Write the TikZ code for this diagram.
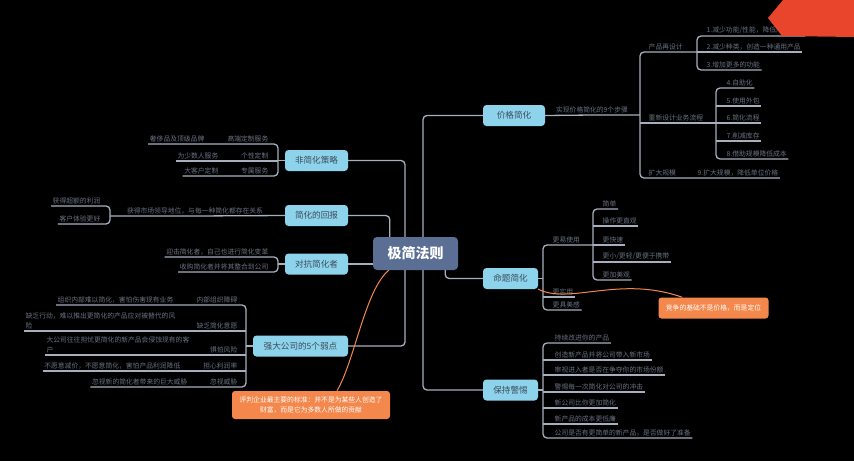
\documentclass[tikz,border=0pt]{standalone}
\usepackage{fontspec}
\usepackage{xcolor}
\usepackage{tikz}
\newfontfamily\cjk{Noto Sans CJK SC}
\definecolor{topicblue}{HTML}{8DD3EC}
\definecolor{topictext}{HTML}{3E4C5C}
\definecolor{rootblue}{HTML}{5B6F94}
\definecolor{linegray}{HTML}{A7AFBE}
\definecolor{leafgray}{HTML}{6A7282}
\definecolor{noteorange}{HTML}{F4874B}
\definecolor{tagred}{HTML}{E8452C}
\pgfdeclarelayer{bg}
\pgfsetlayers{bg,main}

\begin{document}
\begin{tikzpicture}[x=1pt, y=-1pt,
    root/.style={rectangle, rounded corners=4pt, fill=rootblue, text=white, font=\cjk\bfseries\fontsize{14}{16}\selectfont, minimum width=85pt, minimum height=33pt, inner sep=0pt},
    topic/.style={rectangle, rounded corners=3.5pt, fill=topicblue, text=topictext, font=\cjk\fontsize{8.6}{10}\selectfont, minimum height=21pt, inner sep=0pt},
    leaf/.style={font=\cjk\fontsize{6.8}{9.5}\selectfont, text=leafgray, inner xsep=1.5pt, inner ysep=2pt},
    lleaf/.style={leaf, anchor=south west},
    rleaf/.style={leaf, anchor=south east},
    branch/.style={draw=linegray, line width=1.3pt, rounded corners=4pt},
    note/.style={rectangle, rounded corners=3pt, fill=noteorange, text=white, font=\cjk\fontsize{6.8}{10}\selectfont, inner sep=0pt, align=center},
    link/.style={draw=noteorange, line width=1pt}]

    \begin{pgfonlayer}{bg}
        \fill[black] (0,0) rectangle (854,461);
    \end{pgfonlayer}
    \useasboundingbox (0,0) rectangle (854,461);

    % main topics
    \node[root] (root) at (415.5,253.5) {极简法则};
    \node[topic, minimum width=63pt] (nonsimp) at (316.5,160.5) {非简化策略};
    \node[topic, minimum width=63pt] (reward) at (316.5,215.5) {简化的回报};
    \node[topic, minimum width=63pt] (fight) at (316.5,264) {对抗简化者};
    \node[topic, minimum width=95pt] (weak) at (300.5,346) {强大公司的5个弱点};
    \node[topic, minimum width=62pt] (price) at (514,115.5) {价格简化};
    \node[topic, minimum width=55pt] (prop) at (510.5,278.5) {命题简化};
    \node[topic, minimum width=55pt] (alert) at (510.5,390) {保持警惕};

    \coordinate (ltrunk) at (405,0);
    \coordinate (rtrunk) at (423,0);

    % price
    \node[leaf, anchor=south] (pstep) at (592,115) {实现价格简化的9个步骤};
    \coordinate (pv) at (640,0);
    \node[lleaf] (pdesign) at (647,52) {产品再设计};
    \node[lleaf] (pprocess) at (647,123) {重新设计业务流程};
    \node[lleaf] (pscale) at (647,178) {扩大规模};
    \coordinate (pdv) at (697,0);
    \node[lleaf] (p1) at (705,36) {1.减少功能/性能，降低产品成本};
    \node[lleaf] (p2) at (705,52) {2.减少种类，创造一种通用产品};
    \node[lleaf] (p3) at (705,70) {3.增加更多的功能};
    \coordinate (prv) at (716,0);
    \node[lleaf] (p4) at (725,88) {4.自助化};
    \node[lleaf] (p5) at (725,106) {5.使用外包};
    \node[lleaf] (p6) at (725,123) {6.简化流程};
    \node[lleaf] (p7) at (725,141) {7.削减库存};
    \node[lleaf] (p8) at (725,159) {8.借助规模降低成本};
    \node[lleaf] (p9) at (696,178) {9.扩大规模，降低单位价格};

    % proposition
    \coordinate (qv) at (543,0);
    \node[lleaf] (qeasy) at (551,245) {更易使用};
    \node[lleaf] (quse) at (551,297) {更实用};
    \node[lleaf] (qlook) at (551,310) {更具美感};
    \coordinate (qv2) at (593,0);
    \node[lleaf] (q1) at (601,209) {简单};
    \node[lleaf] (q2) at (601,226) {操作更直观};
    \node[lleaf] (q3) at (601,245) {更快速};
    \node[lleaf] (q4) at (601,262) {更小/更轻/更便于携带};
    \node[lleaf] (q5) at (601,280) {更加美观};
    \node[note, minimum width=110pt, minimum height=21pt] (noter) at (713.5,308) {竞争的基础不是价格，而是定位};

    % alert
    \coordinate (av) at (543,0);
    \node[lleaf] (a1) at (553,343) {持续改进你的产品};
    \node[lleaf] (a2) at (553,360) {创造新产品并将公司带入新市场};
    \node[lleaf] (a3) at (553,375) {审视进入者是否在争夺你的市场份额};
    \node[lleaf] (a4) at (553,392) {警惕每一次简化对公司的冲击};
    \node[lleaf] (a5) at (553,408) {新公司比你更加简化};
    \node[lleaf] (a6) at (553,424) {新产品的成本更低廉};
    \node[lleaf] (a7) at (553,438) {公司是否有更简单的新产品，是否做好了准备};

    % non-simplifying
    \coordinate (nv) at (278,0);
    \node[rleaf] (n1b) at (270,144) {高端定制服务};
    \node[rleaf] (n1a) at (206,144) {奢侈品及顶级品牌};
    \node[rleaf] (n2b) at (270,161) {个性定制};
    \node[rleaf] (n2a) at (220,161) {为少数人服务};
    \node[rleaf] (n3b) at (270,176) {专属服务};
    \node[rleaf] (n3a) at (220,176) {大客户定制};

    % reward
    \node[leaf, anchor=south] (rmain) at (195,216) {获得市场领导地位，与每一种简化都存在关系};
    \coordinate (rv) at (110,0);
    \node[rleaf] (r1) at (102,206) {获得超额的利润};
    \node[rleaf] (r2) at (102,224) {客户体验更好};

    % fight
    \coordinate (fv) at (278,0);
    \node[rleaf] (f1) at (270,257) {迎击简化者，自己也进行简化变革};
    \node[rleaf] (f2) at (270,272) {收购简化者并将其整合到公司};

    % weak points
    \coordinate (wv) at (246,0);
    \node[rleaf] (w1b) at (239,305) {内部组织障碍};
    \node[rleaf] (w1a) at (175,305) {组织内部难以简化，害怕伤害现有业务};
    \node[rleaf] (w2b) at (239,331) {缺乏简化意愿};
    \node[rleaf, align=left] (w2a) at (177,331) {缺乏行动，难以推出更简化的产品应对被替代的风\\险};
    \node[rleaf] (w3b) at (239,355) {惧怕风险};
    \node[rleaf, align=left] (w3a) at (191,355) {大公司往往担忧更简化的新产品会侵蚀现有的客\\户};
    \node[rleaf] (w4b) at (239,371) {担心利润率};
    \node[rleaf] (w4a) at (182,371) {不愿意减价，不愿意简化，害怕产品利润降低};
    \node[rleaf] (w5b) at (239,387) {忽视威胁};
    \node[rleaf] (w5a) at (189,387) {忽视新的简化者带来的巨大威胁};

    \node[note, minimum width=158pt, minimum height=28pt] (notel) at (311,405) {评判企业最主要的标准：并不是为某些人创造了\\财富，而是它为多数人所做的贡献};

    \begin{pgfonlayer}{bg}
        \draw[branch] (nonsimp.east) -- (ltrunk |- nonsimp.east) -- (ltrunk |- weak.east) -- (weak.east);
        \draw[branch] (reward.east) -| ([xshift=17pt]root.north west);
        \draw[branch] (fight.east) -- (fight.east -| root.west);
        \draw[branch] (price.west) -- (rtrunk |- price.west) -- (rtrunk |- alert.west) -- (alert.west);
        \draw[branch] ([xshift=-13pt]root.south east) |- (prop.west);

        \draw[branch] (price.east) -- (pstep.south) -- (pv |- pstep.south);
        \draw[branch] (pdv |- pdesign.south) -- (pv |- pdesign.south) -- (pv |- pscale.south) -- (p9.south east);
        \draw[branch] (pv |- pprocess.south) -- (prv |- pprocess.south);
        \draw[branch] (p1.south east) -- (pdv |- p1.south) -- (pdv |- p3.south) -- (p3.south east);
        \draw[branch] (pdv |- p2.south) -- (p2.south east);
        \draw[branch] (p4.south east) -- (prv |- p4.south) -- (prv |- p8.south) -- (p8.south east);
        \foreach \n in {p5,p6,p7}
            \draw[branch] (prv |- \n.south) -- (\n.south east);

        \draw[branch] (prop.east) -- (qv |- prop.east);
        \draw[branch] (qv2 |- qeasy.south) -- (qv |- qeasy.south) -- (qv |- qlook.south) -- (qlook.south east);
        \draw[branch] (qv |- quse.south) -- (quse.south east);
        \draw[branch] (q1.south east) -- (qv2 |- q1.south) -- (qv2 |- q5.south) -- (q5.south east);
        \foreach \n in {q2,q3,q4}
            \draw[branch] (qv2 |- \n.south) -- (\n.south east);

        \draw[branch] (alert.east) -- (av |- alert.east);
        \draw[branch] (a1.south east) -- (av |- a1.south) -- (av |- a7.south) -- (a7.south east);
        \foreach \n in {a2,a3,a4,a5,a6}
            \draw[branch] (av |- \n.south) -- (\n.south east);

        \draw[branch] (nonsimp.west) -- (nv |- nonsimp.west);
        \draw[branch] (n1a.south west) -- (nv |- n1a.south) -- (nv |- n3a.south) -- (n3a.south west);
        \draw[branch] (nv |- n2a.south) -- (n2a.south west);

        \draw[branch] (reward.west) -- (rmain.south) -- (rv |- rmain.south);
        \draw[branch] (r1.south west) -- (rv |- r1.south) -- (rv |- r2.south) -- (r2.south west);

        \draw[branch] (fight.west) -- (fv |- fight.west);
        \draw[branch] (f1.south west) -- (fv |- f1.south) -- (fv |- f2.south) -- (f2.south west);

        \draw[branch] (weak.west) -- (wv |- weak.west);
        \draw[branch] (w1a.south west) -- (wv |- w1a.south) -- (wv |- w5a.south) -- (w5a.south west);
        \foreach \n in {w2a,w3a,w4a}
            \draw[branch] (wv |- \n.south) -- (\n.south west);
    \end{pgfonlayer}

    % orange links
    \draw[link] (prop.south east) .. controls (570,305) and (620,275) .. ([xshift=24pt]noter.north west);
    \draw[link] ([xshift=26pt]notel.north) .. controls (355,360) and (365,290) .. ([xshift=16pt]root.south west);

    % corner tag
    \fill[tagred] (783,0) -- (854,0) -- (854,37) -- (782,36) -- (768,18) -- cycle;
\end{tikzpicture}
\end{document}
